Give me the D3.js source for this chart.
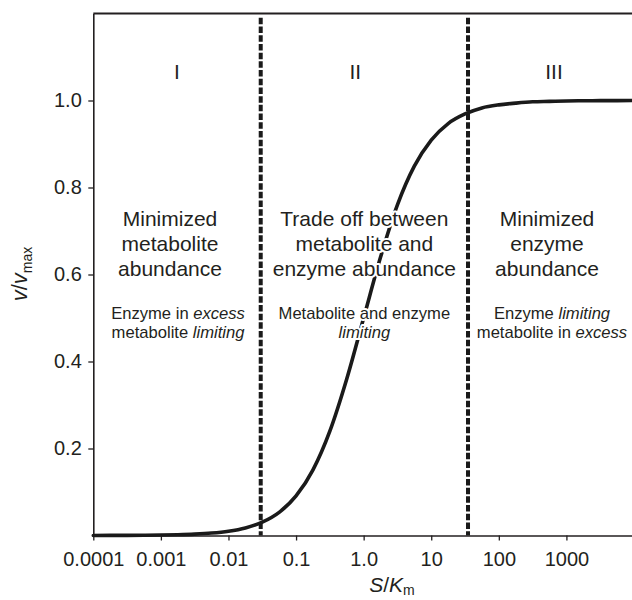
<!DOCTYPE html>
<html><head><meta charset="utf-8">
<script src="https://cdn.jsdelivr.net/npm/d3@7"></script>
<style>
body{margin:0;background:#fff}
svg{display:block}
text{font-family:"Liberation Sans",Arial,Helvetica,sans-serif;fill:#231f20}
</style>
</head><body>
<svg id="chart" width="632" height="600"></svg>
<script>
// ---- data ----
const sValues = [0.0001,0.000178,0.000316,0.000562,0.001,0.00178,0.00316,0.00562,0.01,0.0178,0.0316,0.0562,0.1,0.178,0.316,0.562,1,1.78,3.16,5.62,10,17.8,31.6,56.2,100,178,316,562,1000,1780,3160,5620,10000];
const vValues = [0.0001,0.0002,0.0003,0.0006,0.001,0.0018,0.0032,0.0056,0.0099,0.0175,0.0306,0.0532,0.0909,0.151,0.240,0.360,0.500,0.640,0.760,0.849,0.909,0.947,0.969,0.983,0.990,0.994,0.997,0.998,0.999,0.9994,0.9997,0.9998,0.9999];
const xTickValues = [0.0001,0.001,0.01,0.1,1,10,100,1000];
const xTickLabels = ["0.0001","0.001","0.01","0.1","1.0","10","100","1000"];
const yTickValues = [0.2,0.4,0.6,0.8,1.0];
const yTickLabels = ["0.2","0.4","0.6","0.8","1.0"];
const boundaries = [0.03, 35];
const regionNumerals = ["I","II","III"];
const regionHeadings = [
  ["Minimized","metabolite","abundance"],
  ["Trade off between","metabolite and","enzyme abundance"],
  ["Minimized","enzyme","abundance"]
];
const regionNotes = [
  [[["Enzyme in ",false],["excess",true]],[["metabolite ",false],["limiting",true]]],
  [[["Metabolite and enzyme",false]],[["limiting",true]]],
  [[["Enzyme ",false],["limiting",true]],[["metabolite in ",false],["excess",true]]]
];

// ---- layout ----
const svg = d3.select("#chart");
const L = 93.3, R = 634, T = 13.5, B = 535.5;
const x = d3.scaleLog().domain([1e-4, 1e4]).range([L, R]);
const y = d3.scaleLinear().domain([0, 1.2]).range([B, T]);
const ink = "#231f20";

// axes
const xAxis = d3.axisBottom(x).tickValues(xTickValues)
  .tickFormat((d,i)=>xTickLabels[i]).tickSize(5).tickPadding(11.5).tickSizeOuter(0);
const gx = svg.append("g").attr("transform",`translate(0,${B})`).call(xAxis);
const yAxis = d3.axisLeft(y).tickValues(yTickValues)
  .tickFormat((d,i)=>yTickLabels[i]).tickSize(5).tickPadding(6.5).tickSizeOuter(0);
const gy = svg.append("g").attr("transform",`translate(${L},0)`).call(yAxis);
[gx,gy].forEach(g=>{
  g.select(".domain").attr("stroke",ink).attr("stroke-width",1.6);
  g.selectAll(".tick line").attr("stroke",ink).attr("stroke-width",1.3);
  g.selectAll(".tick text").attr("fill",ink).style("font-size","20px")
   .style("font-family",'"Liberation Sans",Arial,sans-serif');
});
// top border
svg.append("line").attr("x1",L).attr("x2",632).attr("y1",y(1.2)).attr("y2",y(1.2))
  .attr("stroke",ink).attr("stroke-width",1.8);

// dashed boundaries
svg.selectAll("line.bound").data(boundaries).enter().append("line")
  .attr("class","bound")
  .attr("x1",d=>x(d)).attr("x2",d=>x(d))
  .attr("y1",y(1.19)).attr("y2",B)
  .attr("stroke","#1a1a1a").attr("stroke-width",4)
  .attr("stroke-dasharray","6.5,2.2");

// curve
const pts = sValues.map((s,i)=>[s, vValues[i]]);
svg.append("path").datum(pts)
  .attr("d", d3.line().x(d=>x(d[0])).y(d=>y(d[1])).curve(d3.curveMonotoneX))
  .attr("fill","none").attr("stroke","#1a1a1a").attr("stroke-width",3.6)
  .attr("stroke-linejoin","round").attr("stroke-linecap","round");

// region centres (geometric midpoints of the zones)
const zoneEdges = [1e-4, boundaries[0], boundaries[1], 1e4];
const zoneMid = [0,1,2].map(i=>x(Math.sqrt(zoneEdges[i]*zoneEdges[i+1])));
const numeralDx = [0,-9,3], headDx = [-7,0,-4], noteDx = [1,0,1];

function halo(sel){
  return sel.attr("stroke","#fff").attr("stroke-width",4)
    .attr("stroke-linejoin","round").style("paint-order","stroke fill");
}

regionNumerals.forEach((n,i)=>{
  svg.append("text").attr("x",zoneMid[i]+numeralDx[i]).attr("y",79)
    .attr("text-anchor","middle").style("font-size","21px").text(n);
});

regionHeadings.forEach((lines,i)=>{
  lines.forEach((ln,j)=>{
    halo(svg.append("text")).attr("x",zoneMid[i]+headDx[i]).attr("y",226+j*25)
      .attr("text-anchor","middle").style("font-size","21px").text(ln);
  });
});

regionNotes.forEach((lines,i)=>{
  lines.forEach((parts,j)=>{
    const t = halo(svg.append("text")).attr("x",zoneMid[i]+noteDx[i]).attr("y",319+j*19)
      .attr("text-anchor","middle").style("font-size","16.6px");
    parts.forEach(p=>{
      t.append("tspan").style("font-style",p[1]?"italic":"normal").text(p[0]);
    });
  });
});

// y axis title
const yt = svg.append("text").attr("transform","translate(27,274) rotate(-90)")
  .attr("text-anchor","middle").style("font-size","22px");
yt.append("tspan").style("font-style","italic").text("v");
yt.append("tspan").text("/");
yt.append("tspan").style("font-style","italic").text("v");
yt.append("tspan").attr("dy",5).style("font-size","14px").text("max");

// x axis title
const xt = svg.append("text").attr("x",392).attr("y",592)
  .attr("text-anchor","middle").style("font-size","21px");
xt.append("tspan").style("font-style","italic").text("S");
xt.append("tspan").text("/");
xt.append("tspan").style("font-style","italic").text("K");
xt.append("tspan").attr("dy",3).style("font-size","14px").text("m");
</script>
</body></html>
